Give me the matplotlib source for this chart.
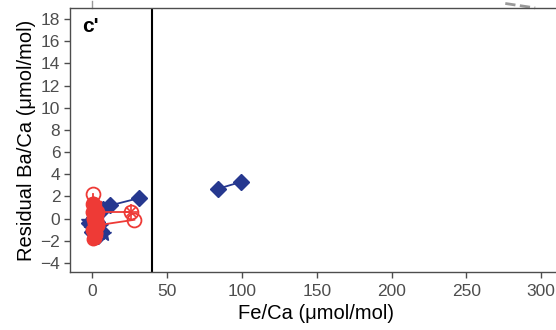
import matplotlib.pyplot as plt

plt.rcParams['font.family'] = ['Liberation Sans', 'DejaVu Sans']

RED = '#ee3a36'
BLUE = '#26388f'
GRAY = '#4d4d4d'

# blue specimens (Fe/Ca, residual Ba/Ca)
blue_a_x = [84, 99]
blue_a_y = [2.7, 3.3]
blue_b_x = [3, 7, 12, 31]
blue_b_y = [0.4, 0.9, 1.2, 1.85]
blue_c_x = [-3, -1, 1, 3, 5, 8, 6]
blue_c_y = [-0.2, -0.4, -0.9, -1.1, -1.3, -1.4, -0.7]
blue_d_x = [-2, 0, 2, 4, 6, 3, 1]
blue_d_y = [-0.4, -1.2, -0.8, -1.6, -1.1, -0.3, 0.1]

# red specimens
red_a_x = [0.5, 1, -0.5, 1.5, 2.5, 0.5, 1, 3, 1.5, -0.5, 2.5, 1, 3.5, 0.5, 2, 2]
red_a_y = [1.4, 1.0, 0.6, 0.3, 0.8, 0.0, -0.4, -0.2, -0.8, -1.0, -1.3, -1.6, -0.6, -1.8, 0.2, -1.7]
red_b_x = [0.2, 0.2]
red_b_y = [2.2, 1.3]
red_c_x = [3, 26]
red_c_y = [0.6, 0.6]
red_d_x = [3, 28]
red_d_y = [-0.6, -0.1]
red_e_x = [0, 1, 2.5, 3, 1.5, 4]
red_e_y = [0.4, -0.3, 1.1, -1.2, -0.9, 0.1]

fig = plt.figure(figsize=(5.56, 3.3), dpi=100)
ax = fig.add_axes([0.126, 0.176, 0.885, 0.8])

ax.plot(blue_a_x, blue_a_y, '-', color=BLUE, lw=1.3, marker='D', ms=8.5, zorder=3)
ax.plot(blue_b_x, blue_b_y, '-', color=BLUE, lw=1.3, marker='D', ms=8.5, zorder=3)
ax.plot(blue_c_x, blue_c_y, '-', color=BLUE, lw=1.3, marker='*', ms=10, zorder=3)
ax.plot(blue_d_x, blue_d_y, '-', color=BLUE, lw=1.3, marker='D', ms=8.5, zorder=3)

ax.plot(red_a_x, red_a_y, '-', color=RED, lw=1.3, marker='o', ms=9, zorder=4)
ax.plot(red_b_x, red_b_y, '-', color=RED, lw=1.3, marker='o', ms=10, mfc='none', mew=1.3, zorder=4)
ax.plot(red_c_x, red_c_y, '-', color=RED, lw=1.3, marker='o', ms=10, mfc='none', mew=1.3, zorder=4)
ax.plot(red_c_x, red_c_y, ' ', color=RED, marker='x', ms=7.5, mew=1.2, zorder=4)
ax.plot(red_c_x, red_c_y, ' ', color=RED, marker='+', ms=11, mew=1.2, zorder=4)
ax.plot(red_d_x, red_d_y, '-', color=RED, lw=1.3, marker='o', ms=10, mfc='none', mew=1.3, zorder=4)
ax.plot(red_e_x, red_e_y, '-', color=RED, lw=1.3, marker='s', ms=7, zorder=4)

ax.axvline(40, color='black', lw=1.5, zorder=2)

# piece of the dashed line from the panel above
ax.plot([276, 296], [19.4, 19.0], '--', color='#999999', lw=2, clip_on=False)

ax.set_xlim(-15, 314)
ax.set_ylim(-4.8, 19)
ax.set_xticks([0, 50, 100, 150, 200, 250, 300])
ax.set_yticks(range(-4, 19, 2))

for s in ax.spines.values():
    s.set_color(GRAY)
    s.set_linewidth(1)
ax.tick_params(colors=GRAY, labelsize=12.5, length=4, width=1)
ax.tick_params(axis='x', pad=5)
ax.tick_params(axis='y', pad=3)
ax.set_xlabel('Fe/Ca (\u03bcmol/mol)', fontsize=14.5, color='black', labelpad=3)
ax.set_ylabel('Residual Ba/Ca (\u03bcmol/mol)', fontsize=14.5, color='black', labelpad=3)

ax.text(0.025, 0.965, "c'", transform=ax.transAxes, fontsize=15, fontweight='bold',
        va='top', ha='left')

# short tick above the top spine at x = 0
ax.plot([0, 0], [19, 19.6], '-', color='#999999', lw=1, clip_on=False)

fig.savefig('out.png', dpi=100)
